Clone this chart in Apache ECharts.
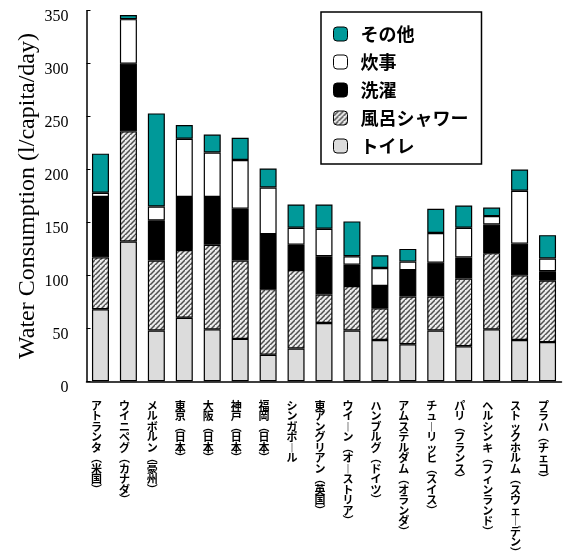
<!DOCTYPE html>
<html>
<head>
<meta charset="utf-8">
<script src="https://cdn.jsdelivr.net/npm/echarts@6/dist/echarts.min.js"></script>
<style>
  html, body { margin: 0; padding: 0; background: #fff; }
  #chart { width: 563px; height: 558px; }
</style>
</head>
<body>
<div id="chart"></div>
<script>
// Per-capita domestic water use by city, split by purpose (l/capita/day)
const cities = [
  'アトランタ（米国）', 'ウイニペグ（カナダ）', 'メルボルン（豪州）',
  '東京（日本）', '大阪（日本）', '神戸（日本）', '福岡（日本）',
  'シンガポール', '東アングリアン（英国）', 'ウイーン（オーストリア）',
  'ハンブルグ（ドイツ）', 'アムステルダム（オランダ）', 'チューリッヒ（スイス）',
  'パリ（フランス）', 'ヘルシンキ（フィンランド）', 'ストックホルム（スウェーデン）',
  'プラハ（チェコ）'
];
const toilet  = [68, 132, 48, 60, 49, 40, 25, 31, 55, 48, 39, 35, 48, 33, 49, 39, 37];
const bath    = [49, 104, 66, 64, 80, 74, 62, 74, 27, 42, 30, 45, 32, 64, 72, 61, 58];
const laundry = [57,  64, 38, 50, 45, 49, 52, 24, 36, 20, 21, 25, 32, 20, 27, 30,  9];
const kitchen = [ 4,  42, 13, 55, 42, 46, 44, 16, 26,  8, 17,  8, 28, 28,  8, 50, 12];
const other   = [37,   4, 88, 13, 17, 21, 18, 22, 23, 33, 12, 12, 23, 21,  8, 20, 22];

const seriesNames = ['トイレ', '風呂シャワー', '洗濯', '炊事', 'その他'];
const legendOrder = ['その他', '炊事', '洗濯', '風呂シャワー', 'トイレ'];
const yMin = 0, yMax = 350, yStep = 50;
const yTitle = 'Water Consumption (l/capita/day)';

// Diagonal hatch tile for the bath/shower segment
function hatchTile() {
  const n = 5;
  const c = document.createElement('canvas');
  c.width = n; c.height = n;
  const g = c.getContext('2d');
  g.fillStyle = '#ececec';
  g.fillRect(0, 0, n, n);
  g.strokeStyle = '#505050';
  g.lineWidth = 1.5;
  g.beginPath();
  g.moveTo(-1, n + 1); g.lineTo(n + 1, -1);
  g.moveTo(-n - 1, 1); g.lineTo(1, -n - 1);
  g.moveTo(-1, 2 * n + 1); g.lineTo(2 * n + 1, -1);
  g.stroke();
  return c;
}

// Stack characters vertically; brackets and long vowel mark use vertical forms
const VERT = { '（': '︵', '）': '︶', 'ー': '︱' };
function toVertical(s) {
  return Array.from(s).map(ch => VERT[ch] || ch).join('\n');
}

const colors = {
  'トイレ': '#dcdcdc',
  '風呂シャワー': { image: hatchTile(), repeat: 'repeat' },
  '洗濯': '#000000',
  '炊事': '#ffffff',
  'その他': '#009999'
};
const values = {
  'トイレ': toilet, '風呂シャワー': bath, '洗濯': laundry, '炊事': kitchen, 'その他': other
};

const chart = echarts.init(document.getElementById('chart'), null, { renderer: 'canvas' });

chart.setOption({
  animation: false,
  backgroundColor: '#ffffff',
  grid: { left: 86.5, right: 1.5, top: 10.7, bottom: 175.3, containLabel: false },
  legend: {
    data: legendOrder,
    orient: 'vertical',
    left: 321, top: 12,
    itemWidth: 14, itemHeight: 14, itemGap: 10,
    padding: [13, 13, 9, 12],
    borderColor: '#000', borderWidth: 1.5,
    backgroundColor: '#fff',
    selectedMode: false,
    itemStyle: { borderColor: '#000', borderWidth: 1 },
    textStyle: {
      fontFamily: 'Noto Sans CJK JP', fontWeight: 'bold', fontSize: 18,
      lineHeight: 18, color: '#000', padding: [0, 0, 0, 8]
    }
  },
  xAxis: {
    type: 'category',
    data: cities,
    axisLine: { lineStyle: { color: '#000', width: 1.5 } },
    axisTick: { inside: true, length: 4, lineStyle: { color: '#000', width: 1 } },
    axisLabel: {
      interval: 0,
      formatter: v => toVertical(v),
      fontFamily: 'Noto Sans CJK JP', fontWeight: 'bold', fontSize: 11,
      lineHeight: 10.5, color: '#000', margin: 19, padding: [0, 8, 0, 0]
    }
  },
  yAxis: {
    type: 'value',
    min: yMin, max: yMax, interval: yStep,
    name: yTitle,
    nameLocation: 'middle',
    nameGap: 47,
    nameMoveOverlap: false,
    nameTextStyle: { fontFamily: 'Liberation Serif', fontSize: 24, color: '#000' },
    axisLine: { show: true, lineStyle: { color: '#000', width: 1.5 } },
    axisTick: { show: true, inside: true, length: 4, lineStyle: { color: '#000', width: 1 } },
    axisLabel: {
      fontFamily: 'Liberation Serif', fontSize: 16, color: '#000',
      margin: 18, verticalAlign: 'top', lineHeight: 13
    },
    splitLine: { show: false }
  },
  series: seriesNames.map(name => ({
    name: name,
    type: 'bar',
    stack: 'use',
    barWidth: 17,
    data: values[name],
    itemStyle: { color: colors[name], borderColor: '#000', borderWidth: 1.2 }
  }))
});
</script>
</body>
</html>
